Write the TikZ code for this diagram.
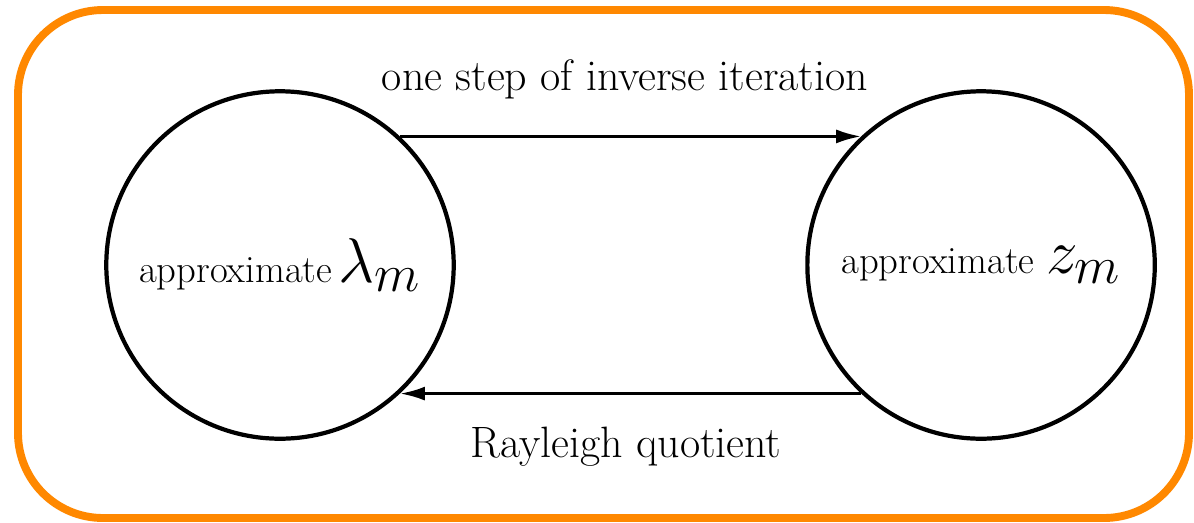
\RequirePackage{fix-cm}
\documentclass[tikz,border=0pt]{standalone}
\usepackage{amsmath}
\usepackage{xcolor}
\usetikzlibrary{arrows.meta,positioning}
\definecolor{frameorange}{RGB}{255,136,0}
\DeclareMathSizes{36}{36}{30}{24}
\newcommand{\bigsym}[1]{{\fontsize{36}{40}\selectfont$#1$}}

\begin{document}
\begin{tikzpicture}[
  x=0.02cm, y=-0.02cm,
  state/.style={draw, circle, line width=2.4pt, minimum size=6.95cm, inner sep=0pt, font=\fontsize{22}{26}\selectfont},
  lbl/.style={font=\fontsize{25}{30}\selectfont},
  arrow/.style={-{Latex[length=0.5cm,width=0.28cm]}, line width=1.7pt},
  frame/.style={draw=frameorange, line width=4.5pt, rounded corners=1.7cm}
]
\useasboundingbox (0,0) rectangle (1194,522);
\draw[frame] (18,10) rectangle (1189,518);
\node[state] (lam) at (280,265) {approximate\,\bigsym{\lambda_m}};
\node[state, right=6.99cm of lam] (zm) {approximate \bigsym{z_m}};
\node[lbl] (inv) at (625,79) {one step of inverse iteration};
\node[lbl] (ray) at (626,447) {Rayleigh quotient};
\draw[arrow] (lam.47) -- (zm.133);
\draw[arrow] (zm.227) -- (lam.313);
\end{tikzpicture}
\end{document}
